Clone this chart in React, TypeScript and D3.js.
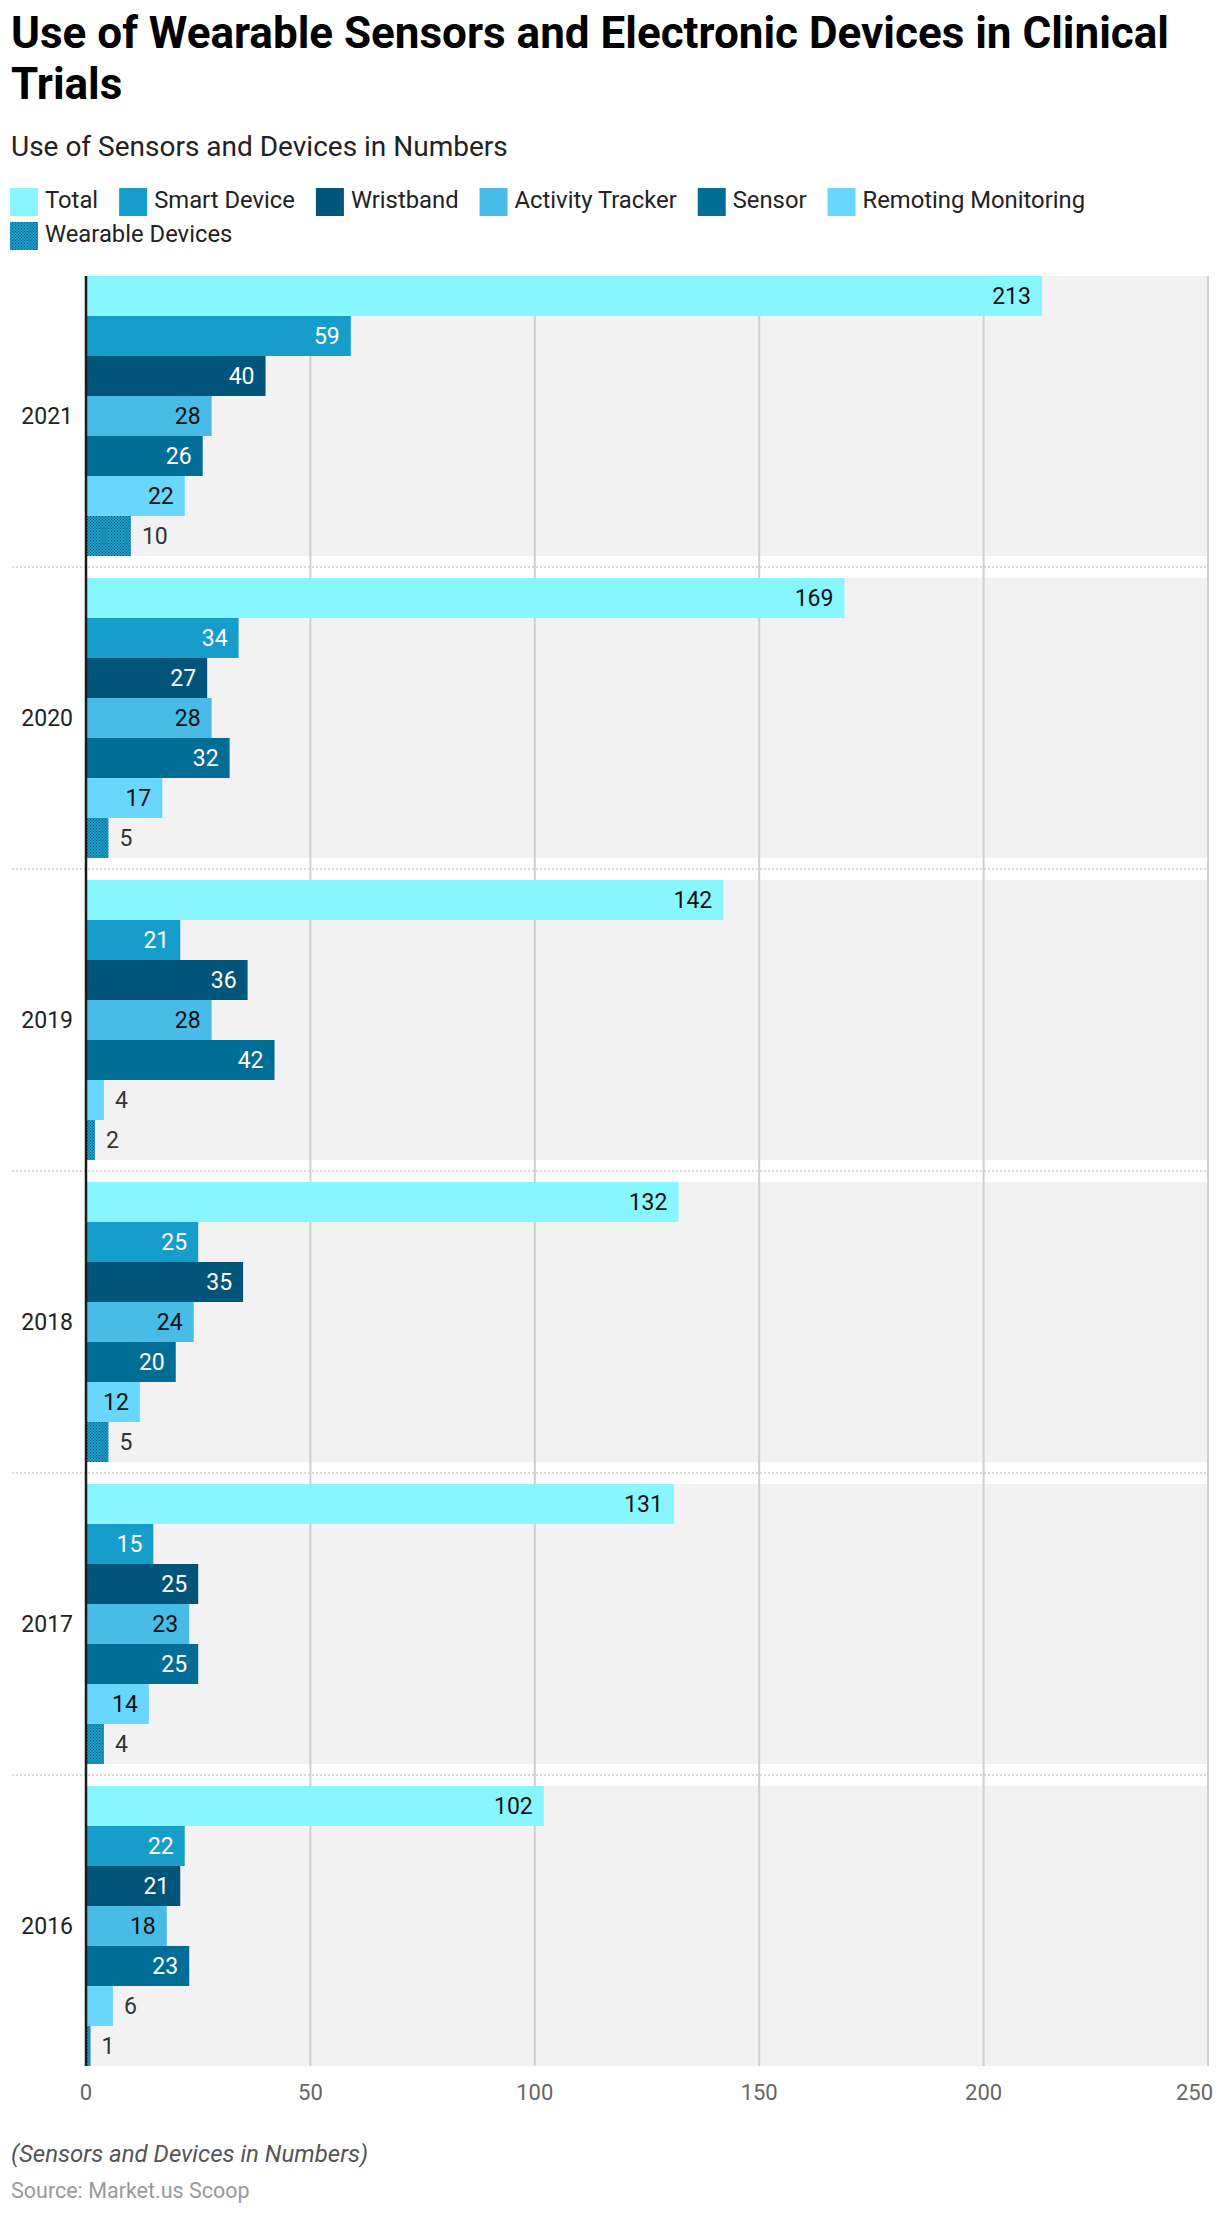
import React, { useEffect, useRef } from "react";
import * as d3 from "d3";

const years = ["2021", "2020", "2019", "2018", "2017", "2016"];
const seriesNames = [
  "Total",
  "Smart Device",
  "Wristband",
  "Activity Tracker",
  "Sensor",
  "Remoting Monitoring",
  "Wearable Devices",
];
const total = [213, 169, 142, 132, 131, 102];
const smartDevice = [59, 34, 21, 25, 15, 22];
const wristband = [40, 27, 36, 35, 25, 21];
const activityTracker = [28, 28, 28, 24, 23, 18];
const sensor = [26, 32, 42, 20, 25, 23];
const remotingMonitoring = [22, 17, 4, 12, 14, 6];
const wearableDevices = [10, 5, 2, 5, 4, 1];
const xTicks = [0, 50, 100, 150, 200, 250];

const seriesValues = [
  total,
  smartDevice,
  wristband,
  activityTracker,
  sensor,
  remotingMonitoring,
  wearableDevices,
];
const seriesColors = [
  "#88f6fe",
  "#169dc9",
  "#01547a",
  "#48bbe7",
  "#006d97",
  "#69d7fc",
  "url(#wearPattern)",
];
const insideLabelColors = ["#111", "#fff", "#fff", "#111", "#fff", "#111", "#fff"];

const W = 1220;
const H = 2218;
const FONT = "Roboto, 'Noto Sans', sans-serif";

export default function App() {
  const ref = useRef<SVGSVGElement | null>(null);

  useEffect(() => {
    const svg = d3.select(ref.current);
    svg.selectAll("*").remove();

    const defs = svg.append("defs");
    const pat = defs
      .append("pattern")
      .attr("id", "wearPattern")
      .attr("patternUnits", "userSpaceOnUse")
      .attr("width", 3)
      .attr("height", 3);
    pat.append("rect").attr("width", 3).attr("height", 3).attr("fill", "#1a9fcb");
    pat.append("rect").attr("x", 0).attr("y", 0).attr("width", 1).attr("height", 1).attr("fill", "#075274");
    pat.append("rect").attr("x", 1.5).attr("y", 1.5).attr("width", 1).attr("height", 1).attr("fill", "#075274");

    // Title
    const title = svg.append("text").attr("font-family", FONT).attr("font-weight", 700).attr("font-size", 44).attr("fill", "#000");
    title.append("tspan").attr("x", 11).attr("y", 48).text("Use of Wearable Sensors and Electronic Devices in Clinical");
    title.append("tspan").attr("x", 11).attr("y", 99).text("Trials");

    svg
      .append("text")
      .attr("x", 11)
      .attr("y", 156)
      .attr("font-family", FONT)
      .attr("font-size", 28)
      .attr("fill", "#222")
      .text("Use of Sensors and Devices in Numbers");

    // Legend
    const legend = svg.append("g");
    let lx = 10;
    let ly = 188;
    const maxX = 1200;
    seriesNames.forEach((name, i) => {
      const g = legend.append("g");
      const t = g
        .append("text")
        .attr("font-family", FONT)
        .attr("font-size", 23.8)
        .attr("fill", "#222")
        .text(name);
      const tw = (t.node() as SVGTextElement).getComputedTextLength();
      const itemW = 28 + 7 + tw;
      if (lx + itemW > maxX) {
        lx = 10;
        ly += 34;
      }
      g.append("rect").attr("x", lx).attr("y", ly).attr("width", 28).attr("height", 28).attr("fill", seriesColors[i]);
      t.attr("x", lx + 35).attr("y", ly + 20);
      lx += itemW + 21;
    });

    // Scales
    const x = d3.scaleLinear().domain([0, 250]).range([86, 1208]);
    const y = d3.scaleBand<string>().domain(years).range([276, 2066]).paddingInner(22 / 302).paddingOuter(0);
    const yInner = d3.scaleBand<string>().domain(seriesNames).range([0, y.bandwidth()]).padding(0);

    // backgrounds
    svg
      .append("g")
      .selectAll("rect")
      .data(years)
      .join("rect")
      .attr("x", x(0))
      .attr("y", (d) => y(d)!)
      .attr("width", x(250) - x(0))
      .attr("height", y.bandwidth())
      .attr("fill", "#f2f2f2");

    // gridlines
    svg
      .append("g")
      .selectAll("line")
      .data(xTicks.filter((t) => t > 0))
      .join("line")
      .attr("x1", (d) => x(d))
      .attr("x2", (d) => x(d))
      .attr("y1", 276)
      .attr("y2", 2066)
      .attr("stroke", "#cfcfcf")
      .attr("stroke-width", 2);

    // separators
    svg
      .append("g")
      .selectAll("line")
      .data(years.slice(0, -1))
      .join("line")
      .attr("x1", 12)
      .attr("x2", x(250))
      .attr("y1", (d) => y(d)! + y.bandwidth() + 11)
      .attr("y2", (d) => y(d)! + y.bandwidth() + 11)
      .attr("stroke", "#cccccc")
      .attr("stroke-width", 1.5)
      .attr("stroke-dasharray", "2 2");

    // bars
    const barsG = svg.append("g");
    years.forEach((yr, yi) => {
      seriesNames.forEach((s, si) => {
        const v = seriesValues[si][yi];
        const by = y(yr)! + yInner(s)!;
        const bh = yInner.bandwidth();
        const bw = x(v) - x(0);
        barsG.append("rect").attr("x", x(0)).attr("y", by).attr("width", bw).attr("height", bh).attr("fill", seriesColors[si]);
        const t = barsG
          .append("text")
          .attr("font-family", FONT)
          .attr("font-size", 23)
          .attr("y", by + bh / 2 + 8)
          .text(String(v));
        const tw = (t.node() as SVGTextElement).getComputedTextLength();
        if (bw >= tw + 22 && si !== 6) {
          t.attr("x", x(v) - 11).attr("text-anchor", "end").attr("fill", insideLabelColors[si]);
        } else {
          t.attr("x", x(v) + 11).attr("text-anchor", "start").attr("fill", "#333");
        }
      });
    });

    // axis line
    svg
      .append("line")
      .attr("x1", x(0))
      .attr("x2", x(0))
      .attr("y1", 276)
      .attr("y2", 2066)
      .attr("stroke", "#1a1a1a")
      .attr("stroke-width", 2.5);

    // year labels
    svg
      .append("g")
      .selectAll("text")
      .data(years)
      .join("text")
      .attr("x", 73)
      .attr("y", (d) => y(d)! + y.bandwidth() / 2 + 8)
      .attr("text-anchor", "end")
      .attr("font-family", FONT)
      .attr("font-size", 23)
      .attr("fill", "#222")
      .text((d) => d);

    // x tick labels
    svg
      .append("g")
      .selectAll("text")
      .data(xTicks)
      .join("text")
      .attr("x", (d) => (d === 250 ? 1213 : x(d)))
      .attr("y", 2100)
      .attr("text-anchor", (d) => (d === 250 ? "end" : "middle"))
      .attr("font-family", FONT)
      .attr("font-size", 22)
      .attr("fill", "#666")
      .text((d) => String(d));

    // footer
    svg
      .append("text")
      .attr("x", 11)
      .attr("y", 2162)
      .attr("font-family", FONT)
      .attr("font-style", "italic")
      .attr("font-size", 24)
      .attr("fill", "#555")
      .text("(Sensors and Devices in Numbers)");
    svg
      .append("text")
      .attr("x", 11)
      .attr("y", 2198)
      .attr("font-family", FONT)
      .attr("font-size", 21.5)
      .attr("fill", "#999")
      .text("Source: Market.us Scoop");
  }, []);

  return (
    <svg
      ref={ref}
      width={W}
      height={H}
      style={{ position: "absolute", left: 0, top: 0, display: "block", background: "#fff" }}
    />
  );
}
